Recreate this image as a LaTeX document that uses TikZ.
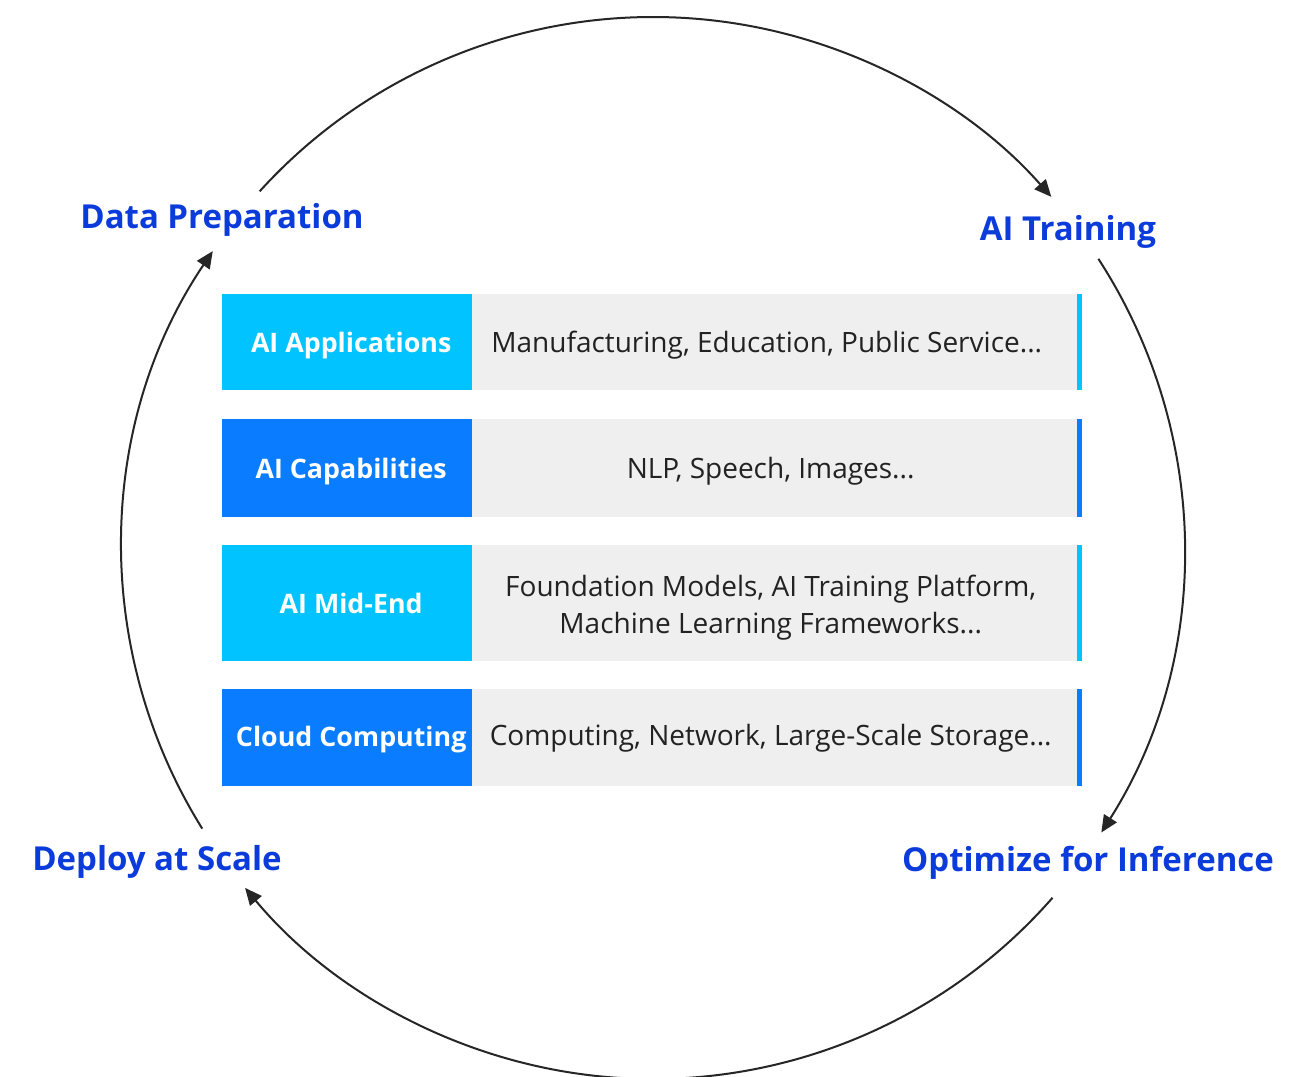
\documentclass[tikz,border=0pt]{standalone}
\usepackage{fontspec}
\setmainfont{Open Sans}
\usetikzlibrary{arrows.meta,calc}
\definecolor{cyanbox}{HTML}{00C3FF}
\definecolor{bluebox}{HTML}{0A7CFF}
\definecolor{graybox}{HTML}{EFEFEF}
\definecolor{stagecol}{HTML}{0B3CDB}
\definecolor{bodytxt}{HTML}{222222}
\tikzset{
  cyclearc/.style={draw=black!85, line width=2pt, -{Triangle[length=17pt,width=15pt]}},
  stagelabel/.style={text=stagecol, font=\fontsize{33}{38}\selectfont\bfseries, inner sep=0pt},
  leftbox/.style={anchor=north west, minimum width=250pt, inner sep=0pt},
  lefttext/.style={inner sep=0pt, text=white, font=\fontsize{26.8}{30}\selectfont\bfseries},
  graycell/.style={anchor=north west, fill=graybox, minimum width=605pt, inner sep=0pt},
  celltext/.style={inner sep=0pt, text=bodytxt, font=\fontsize{28}{37}\selectfont, align=center},
  sidebar/.style={anchor=north west, minimum width=5pt, inner sep=0pt},
}
\begin{document}
\begin{tikzpicture}[x=1pt,y=-1pt]
\useasboundingbox[fill=white] (0,0) rectangle (1313,1076);
\coordinate (C) at (653,548);
% row 1
\node[leftbox, fill=cyanbox, minimum height=96pt] (app) at (222,294) {};
\node[graycell, minimum height=96pt] (appd) at (472,294) {};
\node[sidebar, fill=cyanbox, minimum height=96pt] (appb) at (1077,294) {};
\node[lefttext] (appt) at ([xshift=4pt,yshift=-3pt]app.center) {AI Applications};
\node[celltext] (appdt) at ([xshift=-8pt,yshift=-3pt]appd.center) {Manufacturing, Education, Public Service...};
% row 2
\node[leftbox, fill=bluebox, minimum height=98pt] (cap) at (222,419) {};
\node[graycell, minimum height=98pt] (capd) at (472,419) {};
\node[sidebar, fill=bluebox, minimum height=98pt] (capb) at (1077,419) {};
\node[lefttext] (capt) at ([xshift=4pt,yshift=-3pt]cap.center) {AI Capabilities};
\node[celltext] (capdt) at ([xshift=-4pt,yshift=-3pt]capd.center) {NLP, Speech, Images...};
% row 3
\node[leftbox, fill=cyanbox, minimum height=116pt] (mid) at (222,545) {};
\node[graycell, minimum height=116pt] (midd) at (472,545) {};
\node[sidebar, fill=cyanbox, minimum height=116pt] (midb) at (1077,545) {};
\node[lefttext] (midt) at ([xshift=4pt,yshift=0pt]mid.center) {AI Mid-End};
\node[celltext] (middt) at ([xshift=-4pt,yshift=-4pt]midd.center) {Foundation Models, AI Training Platform,\\Machine Learning Frameworks...};
% row 4
\node[leftbox, fill=bluebox, minimum height=97pt] (cld) at (222,689) {};
\node[graycell, minimum height=97pt] (cldd) at (472,689) {};
\node[sidebar, fill=bluebox, minimum height=97pt] (cldb) at (1077,689) {};
\node[lefttext] (cldt) at ([xshift=4pt,yshift=-2pt]cld.center) {Cloud Computing};
\node[celltext] (clddt) at ([xshift=-4pt,yshift=-1pt]cldd.center) {Computing, Network, Large-Scale Storage...};

% stage labels
\node[stagelabel] (dp) at (222,220) {Data Preparation};
\node[stagelabel] (tr) at (1068,232) {AI Training};
\node[stagelabel] (ds) at (157,862) {Deploy at Scale};
\node[stagelabel] (oi) at (1088,863) {Optimize for Inference};

% arc endpoints
\coordinate (a1s) at ($(C)+(137.8:531pt)$);
\coordinate (a2s) at ($(C)+(33:531pt)$);
\coordinate (a3s) at ($(C)+(-41.2:531pt)$);
\coordinate (a4s) at ($(C)+(211.9:531pt)$);
\draw[cyclearc] (a1s) arc[start angle=137.8, end angle=41.4, radius=531pt];
\draw[cyclearc] (a2s) arc[start angle=33, end angle=-32.4, radius=531pt];
\draw[cyclearc] (a3s) arc[start angle=-41.2, end angle=-140.2, radius=531pt];
\draw[cyclearc] (a4s) arc[start angle=211.9, end angle=146, radius=531pt];
\end{tikzpicture}
\end{document}
